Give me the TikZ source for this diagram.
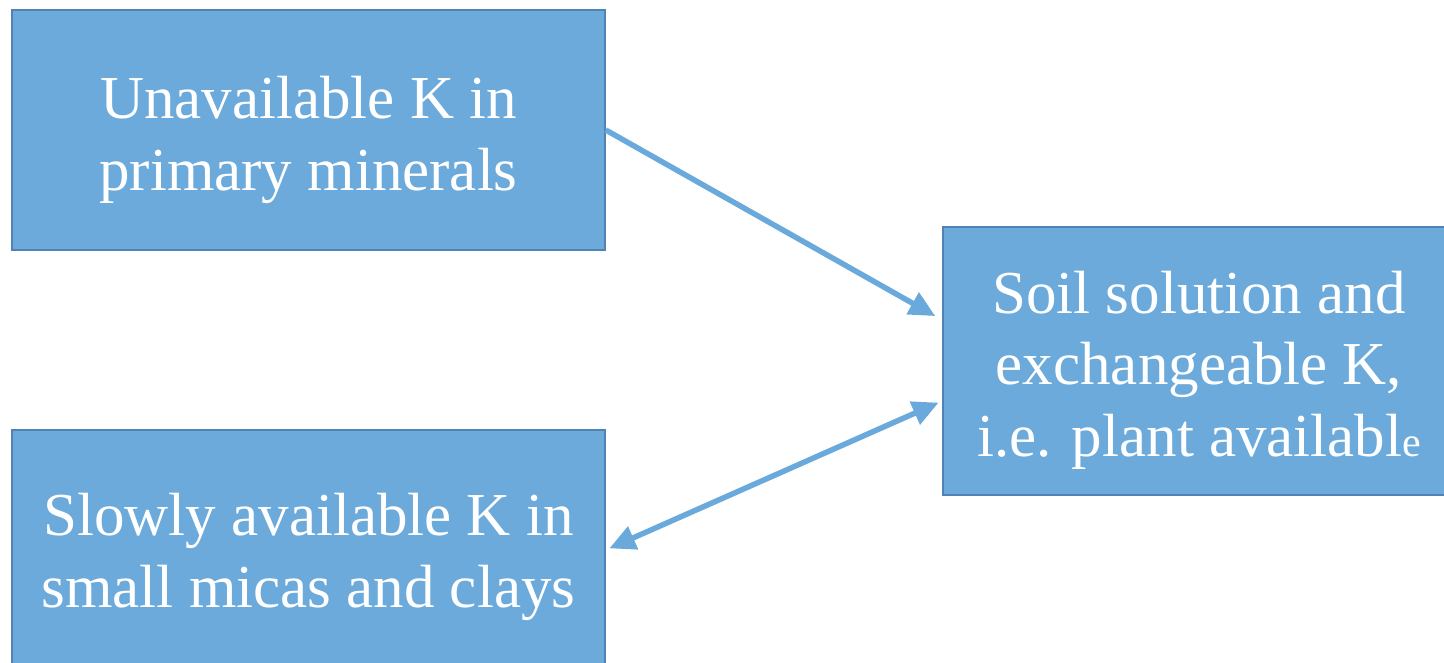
\documentclass[tikz,border=0pt]{standalone}
\usepackage{fontspec}
\setmainfont{Liberation Serif}
\usetikzlibrary{arrows.meta}
\definecolor{boxfill}{HTML}{6BAADB}
\definecolor{boxline}{HTML}{5083B4}
\definecolor{arrowc}{HTML}{6AA9DB}
\newcommand{\kstrut}[1]{\rule{0pt}{#1}}
\tikzset{
  kbox/.style={draw=boxline, line width=1.5pt, fill=boxfill, text=white, align=center,
    inner sep=0pt, font=\fontsize{61}{71.5}\selectfont},
  karrow/.style={draw=arrowc, line width=5.5pt, -{Triangle[length=26pt,width=24pt]}},
  kdarrow/.style={draw=arrowc, line width=5.5pt, {Triangle[length=26pt,width=24pt]}-{Triangle[length=26pt,width=24pt]}}
}
\begin{document}
\begin{tikzpicture}[x=1pt,y=-1pt]
\useasboundingbox (0,0) rectangle (1444,662);
\node[kbox, minimum width=593pt, minimum height=240pt] (b1) at (308.5,130) {\kstrut{62pt}Unavailable K in\\primary minerals};
\node[kbox, minimum width=593pt, minimum height=240pt] (b2) at (308.5,550) {\kstrut{56pt}Slowly available K in\\small micas and clays};
\node[kbox, minimum width=512pt, minimum height=268pt] (b3) at (1199,361) {\kstrut{60pt}Soil solution and\\exchangeable K,\\i.e. plant availabl{\fontsize{42}{42}\selectfont e}};
\draw[karrow, shorten >=8pt] (b1.east) -- ([yshift=41pt]b3.west);
\draw[kdarrow, shorten >=4pt, shorten <=4pt] (b2.east) -- ([yshift=-40pt]b3.west);
\end{tikzpicture}
\end{document}
